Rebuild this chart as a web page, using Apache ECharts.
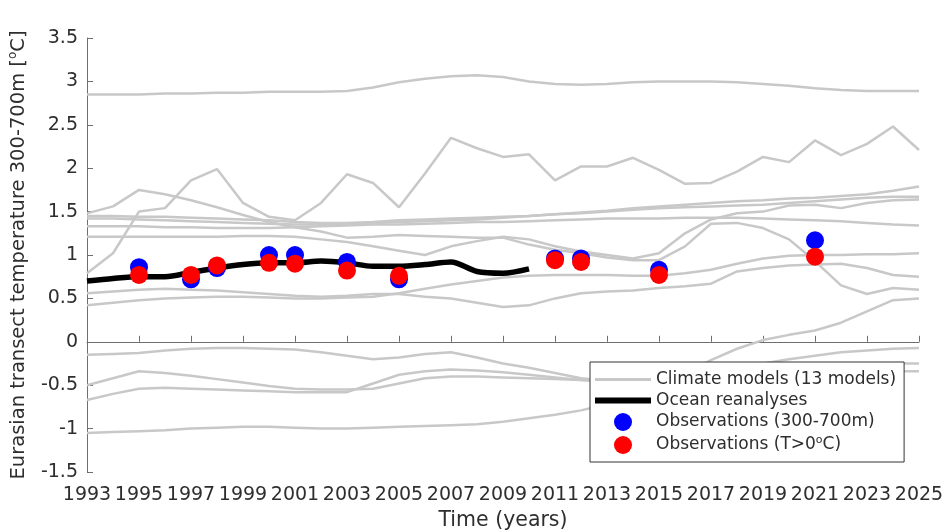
<!DOCTYPE html>
<html>
<head>
<meta charset="utf-8">
<script src="https://cdn.jsdelivr.net/npm/echarts@6/dist/echarts.min.js"></script>
<style>
  html, body { margin: 0; padding: 0; background: #fff; }
  #chart { width: 944px; height: 532px; }
</style>
</head>
<body>
<div id="chart"></div>
<script>
// Years on the time axis (one category per year)
const years = ['1993','1994','1995','1996','1997','1998','1999','2000','2001','2002','2003',
  '2004','2005','2006','2007','2008','2009','2010','2011','2012','2013','2014','2015',
  '2016','2017','2018','2019','2020','2021','2022','2023','2024','2025'];

// Climate model runs, 300-700 m temperature, 1993-2025
const model01 = [2.85,2.85,2.85,2.86,2.86,2.87,2.87,2.88,2.88,2.88,2.89,2.93,2.99,3.03,3.06,3.07,3.05,3.00,2.97,2.96,2.97,2.99,3.00,3.00,3.00,2.99,2.97,2.95,2.92,2.90,2.89,2.89,2.89];
const model02 = [0.79,1.02,1.50,1.54,1.86,1.99,1.60,1.44,1.40,1.60,1.93,1.83,1.55,1.94,2.35,2.23,2.13,2.16,1.86,2.02,2.02,2.12,1.98,1.82,1.83,1.96,2.13,2.07,2.32,2.15,2.28,2.48,2.21];
const model03 = [1.48,1.56,1.75,1.70,1.63,1.55,1.46,1.38,1.32,1.27,1.20,1.21,1.23,1.22,1.21,1.20,1.20,1.12,1.06,1.02,0.97,0.94,0.94,1.10,1.36,1.37,1.31,1.18,0.93,0.65,0.55,0.62,0.60];
const model04 = [1.21,1.21,1.21,1.21,1.21,1.21,1.22,1.22,1.21,1.18,1.15,1.10,1.05,1.00,1.10,1.16,1.21,1.18,1.10,1.04,1.00,0.96,1.02,1.25,1.41,1.48,1.50,1.57,1.58,1.54,1.60,1.63,1.64];
const model05 = [1.45,1.45,1.44,1.44,1.43,1.42,1.41,1.40,1.38,1.37,1.37,1.38,1.40,1.41,1.42,1.43,1.44,1.45,1.47,1.49,1.51,1.54,1.56,1.58,1.60,1.62,1.63,1.65,1.66,1.68,1.70,1.74,1.79];
const model06 = [1.42,1.42,1.41,1.40,1.39,1.38,1.37,1.36,1.35,1.35,1.36,1.37,1.38,1.39,1.40,1.41,1.43,1.45,1.47,1.48,1.50,1.52,1.54,1.55,1.56,1.57,1.58,1.60,1.62,1.64,1.66,1.67,1.67];
const model07 = [1.33,1.33,1.33,1.32,1.32,1.31,1.31,1.31,1.32,1.33,1.34,1.35,1.35,1.36,1.37,1.38,1.38,1.39,1.40,1.41,1.42,1.42,1.42,1.43,1.43,1.43,1.42,1.41,1.40,1.39,1.37,1.35,1.34];
const model08 = [0.56,0.58,0.60,0.61,0.60,0.59,0.57,0.55,0.53,0.52,0.53,0.55,0.55,0.52,0.50,0.45,0.40,0.42,0.50,0.56,0.58,0.59,0.62,0.64,0.67,0.81,0.85,0.88,0.89,0.90,0.85,0.77,0.75];
const model09 = [0.42,0.45,0.48,0.50,0.51,0.52,0.52,0.51,0.50,0.50,0.51,0.52,0.56,0.61,0.66,0.70,0.74,0.76,0.77,0.77,0.77,0.76,0.76,0.79,0.83,0.90,0.96,0.99,1.00,1.00,1.01,1.01,1.02];
const model10 = [-0.15,-0.14,-0.13,-0.10,-0.08,-0.07,-0.07,-0.08,-0.09,-0.12,-0.16,-0.20,-0.18,-0.14,-0.12,-0.18,-0.25,-0.30,-0.36,-0.42,-0.45,-0.45,-0.42,-0.38,-0.33,-0.28,-0.25,-0.20,-0.16,-0.12,-0.10,-0.08,-0.07];
const model11 = [-0.50,-0.42,-0.34,-0.36,-0.39,-0.43,-0.47,-0.51,-0.54,-0.55,-0.55,-0.54,-0.48,-0.42,-0.40,-0.40,-0.41,-0.42,-0.43,-0.44,-0.45,-0.44,-0.42,-0.40,-0.38,-0.35,-0.32,-0.30,-0.28,-0.27,-0.26,-0.25,-0.25];
const model12 = [-0.67,-0.60,-0.54,-0.53,-0.54,-0.55,-0.56,-0.57,-0.58,-0.58,-0.58,-0.48,-0.38,-0.34,-0.32,-0.33,-0.35,-0.38,-0.41,-0.44,-0.46,-0.46,-0.45,-0.44,-0.43,-0.42,-0.40,-0.38,-0.37,-0.36,-0.35,-0.34,-0.34];
const model13 = [-1.05,-1.04,-1.03,-1.02,-1.00,-0.99,-0.98,-0.98,-0.99,-1.00,-1.00,-0.99,-0.98,-0.97,-0.96,-0.95,-0.92,-0.88,-0.84,-0.79,-0.72,-0.62,-0.50,-0.37,-0.21,-0.08,0.02,0.08,0.13,0.22,0.35,0.48,0.50];

const climateModels = [model01, model02, model03, model04, model05, model06, model07,
  model08, model09, model10, model11, model12, model13];

// Ocean reanalysis ensemble, 1993-2010
const reanalysis = [0.70,0.73,0.75,0.75,0.80,0.85,0.89,0.91,0.91,0.93,0.91,0.87,0.87,0.89,0.92,0.81,0.79,0.84];

// Observations
const obsYears = ['1995','1997','1998','2000','2001','2003','2005','2011','2012','2015','2021'];
const obs300to700 = [0.86,0.72,0.85,1.00,1.00,0.92,0.72,0.96,0.96,0.83,1.17];
const obsAboveZero = [0.77,0.77,0.88,0.91,0.90,0.82,0.76,0.94,0.92,0.77,0.98];

const NAME_MODELS = 'Climate models (13 models)';
const NAME_REANALYSIS = 'Ocean reanalyses';
const NAME_OBS_DEPTH = 'Observations (300-700m)';
const NAME_OBS_TEMP = 'Observations (T>0°C)';

const FONT = 'DejaVu Sans';
const TEXT = '#2e2e2e';
const AXIS = '#6e6e6e';

// Rich-text helper: plain runs in style "n", the degree "o" raised as a superscript
function withSuperscriptDegree(text) {
  const parts = text.split('°');
  if (parts.length === 1) return '{n|' + text + '}';
  return '{n|' + parts[0] + '}{sup|o}{n|' + parts[1] + '}';
}

const series = [];
climateModels.forEach(function (values) {
  series.push({
    name: NAME_MODELS,
    type: 'line',
    data: values,
    symbol: 'none',
    lineStyle: { color: '#c8c8c8', width: 2.5 },
    itemStyle: { color: '#c8c8c8' },
    z: 2
  });
});
series.push({
  name: NAME_REANALYSIS,
  type: 'line',
  data: reanalysis,
  symbol: 'none',
  smooth: 0.3,
  lineStyle: { color: '#000000', width: 5.5 },
  itemStyle: { color: '#000000' },
  z: 3
});
series.push({
  name: NAME_OBS_DEPTH,
  type: 'scatter',
  data: obsYears.map(function (y, i) { return [y, obs300to700[i]]; }),
  symbol: 'circle',
  symbolSize: 18,
  itemStyle: { color: '#0000ff', opacity: 1 },
  z: 4
});
series.push({
  name: NAME_OBS_TEMP,
  type: 'scatter',
  data: obsYears.map(function (y, i) { return [y, obsAboveZero[i]]; }),
  symbol: 'circle',
  symbolSize: 18,
  itemStyle: { color: '#ff0000', opacity: 1 },
  z: 5
});

const chart = echarts.init(document.getElementById('chart'), null, { renderer: 'canvas' });
chart.setOption({
  animation: false,
  backgroundColor: '#ffffff',
  textStyle: { fontFamily: FONT },
  grid: { left: 87, right: 25, top: 38, bottom: 60, containLabel: false, outerBoundsMode: 'none' },
  legend: {
    left: 590,
    top: 362,
    orient: 'vertical',
    backgroundColor: '#ffffff',
    borderColor: '#333333',
    borderWidth: 1,
    borderRadius: 0,
    padding: [9, 8, 7, 5],
    itemGap: 4,
    itemWidth: 56,
    itemHeight: 18,
    symbolKeepAspect: true,
    selectedMode: false,
    data: [
      { name: NAME_MODELS, icon: 'path://M0,0L56,0L56,3L0,3Z', itemStyle: { color: '#c8c8c8' } },
      { name: NAME_REANALYSIS, icon: 'path://M0,0L56,0L56,6L0,6Z', itemStyle: { color: '#000000' } },
      { name: NAME_OBS_DEPTH, icon: 'circle', itemStyle: { color: '#0000ff' } },
      { name: NAME_OBS_TEMP, icon: 'circle', itemStyle: { color: '#ff0000' } }
    ],
    formatter: withSuperscriptDegree,
    textStyle: {
      fontFamily: FONT,
      fontSize: 17,
      color: TEXT,
      rich: {
        n: { fontFamily: FONT, fontSize: 17, color: TEXT, lineHeight: 20 },
        sup: { fontFamily: FONT, fontSize: 11, color: TEXT, lineHeight: 11, padding: [0, 0, 9, 0] }
      }
    }
  },
  xAxis: {
    type: 'category',
    data: years,
    boundaryGap: false,
    name: 'Time (years)',
    nameLocation: 'middle',
    nameGap: 38,
    nameTextStyle: { fontFamily: FONT, fontSize: 20.5, color: TEXT },
    axisLine: { show: true, lineStyle: { color: AXIS, width: 1 } },
    axisTick: { show: true, inside: true, interval: 1, length: 6, lineStyle: { color: AXIS } },
    axisLabel: { interval: 1, fontFamily: FONT, fontSize: 19, color: TEXT, margin: 14 },
    splitLine: { show: false }
  },
  yAxis: {
    type: 'value',
    min: -1.5,
    max: 3.5,
    interval: 0.5,
    name: withSuperscriptDegree('Eurasian transect temperature 300-700m [°C]'),
    nameLocation: 'middle',
    nameGap: 54,
    nameRotate: 90,
    nameTextStyle: {
      fontFamily: FONT, fontSize: 19.5, color: TEXT,
      rich: {
        n: { fontFamily: FONT, fontSize: 19.5, color: TEXT, lineHeight: 24 },
        sup: { fontFamily: FONT, fontSize: 12, color: TEXT, lineHeight: 12, padding: [0, 0, 11, 0] }
      }
    },
    axisLine: { show: true, lineStyle: { color: AXIS, width: 1 } },
    axisTick: { show: true, inside: true, length: 6, lineStyle: { color: AXIS } },
    axisLabel: { fontFamily: FONT, fontSize: 19, color: TEXT, margin: 9 },
    splitLine: { show: false }
  },
  series: series
});
</script>
</body>
</html>
